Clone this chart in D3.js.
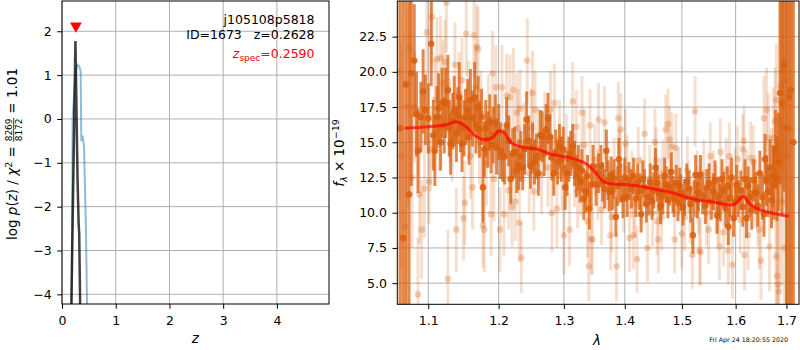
<!DOCTYPE html>
<html>
<head>
<meta charset="utf-8">
<script src="https://cdn.jsdelivr.net/npm/d3@7"></script>
<style>
  body { margin: 0; background: #fff; }
  text { font-family: "DejaVu Sans", sans-serif; white-space: pre; }
</style>
</head>
<body>
<svg id="fig" width="800" height="350"></svg>
<script>
// ---- Redshift probability panel ----
const pzZ   = [0.170, 0.250, 0.290, 0.310, 0.320, 0.342];
const pzLog = [-4.6, 1.78, -1.40, -2.40, -2.60, -4.60];
const chiZ   = [0.178, 0.199, 0.229, 0.261, 0.292, 0.322, 0.348, 0.359, 0.385, 0.410, 0.447, 0.470];
const chiLog = [-4.5, 0.03, 0.59, 1.12, 1.23, 1.20, 1.08, -0.50, -0.38, -0.64, -2.60, -4.60];
const zSpec = 0.259;
const zSpecMarkY = 2.1;
const zTicks = [0, 1, 2, 3, 4];
const logPTicks = [-4, -3, -2, -1, 0, 1, 2];

// ---- Spectrum panel: first grism (solid) ----
const darkWave = [
  1.062,1.066,1.070,1.074,1.077,1.081,1.084,1.086,1.090,1.093,
  1.096,1.100,1.104,1.107,1.109,1.112,1.114,1.117,1.119,1.122,
  1.124,1.127,1.129,1.131,1.134,1.136,1.139,1.141,1.143,1.145,
  1.147,1.150,1.152,1.155,1.157,1.159,1.162,1.165,1.167,1.170,
  1.172,1.175,1.177,1.179,1.181,1.184,1.187,1.189,1.192,1.195,
  1.197,1.200,1.203,1.206,1.209,1.212,1.215,1.218,1.221,1.224,
  1.227,1.230,1.233,1.236,1.239,1.242,1.245,1.248,1.251,1.254,
  1.257,1.260,1.263,1.266,1.269,1.272,1.275,1.278,1.281,1.284,
  1.287,1.290,1.293,1.296,1.299,1.302,1.305,1.308,1.311,1.314,
  1.317,1.320,1.323,1.326,1.329,1.332,1.335,1.338,1.341,1.344,
  1.347,1.352,1.356,1.360,1.363,1.366,1.369,1.372,1.374,1.377,
  1.379,1.382,1.385,1.388,1.390,1.393,1.397,1.400,1.404,1.407,
  1.411,1.415,1.419,1.422,1.425,1.428,1.431,1.434,1.437,1.441,
  1.444,1.447,1.450,1.453,1.456,1.459,1.462,1.466,1.469,1.472,
  1.475,1.478,1.481,1.484,1.486,1.490,1.493,1.496,1.498,1.502,
  1.505,1.509,1.513,1.516,1.520,1.522,1.525,1.528,1.530,1.534,
  1.538,1.543,1.546,1.550,1.554,1.558,1.561,1.565,1.568,1.571,
  1.574,1.577,1.581,1.584,1.586,1.589,1.592,1.596,1.599,1.602,
  1.605,1.610,1.614,1.618,1.621,1.624,1.627,1.631,1.635,1.639,
  1.643,1.647,1.652,1.655,1.657,1.660,1.663,1.667,1.670,1.673,
  1.675,1.678,1.681,1.684,1.687,1.691,1.695,1.700,1.705,1.709,
  1.714];
const darkFlux = [
  16.0,8.2,19.1,11.3,19.9,20.8,17.0,14.4,16.8,18.6,
  17.3,16.7,22.0,15.5,14.4,16.8,17.4,15.0,17.8,16.2,
  17.8,18.7,16.0,14.9,16.5,17.2,15.6,16.9,18.2,16.3,
  14.9,16.0,16.8,17.3,15.4,18.0,16.7,18.2,16.2,17.5,
  15.9,16.8,11.8,14.5,16.0,15.2,16.4,14.8,15.5,16.4,
  14.7,15.7,14.4,14.0,14.0,16.2,15.1,12.4,14.2,14.3,
  13.0,13.4,14.0,13.2,14.5,16.6,15.1,13.3,14.6,13.6,
  14.0,12.8,15.5,15.4,14.2,15.9,16.7,15.4,13.9,12.8,
  14.3,13.6,14.7,13.8,14.5,11.8,12.8,13.8,14.2,14.7,
  13.5,12.6,13.2,12.2,13.0,11.0,11.5,12.6,10.3,12.0,
  13.3,12.0,12.8,13.3,12.2,11.7,14.4,12.3,11.5,12.6,
  11.6,12.4,9.7,11.9,13.8,12.1,11.0,12.5,11.1,12.3,
  11.7,12.6,11.0,12.2,11.5,9.9,12.4,11.8,10.6,11.1,
  12.2,10.8,11.6,13.2,12.1,11.4,10.5,11.2,12.6,12.0,
  10.9,11.8,12.9,11.3,11.0,12.1,10.7,11.9,11.4,10.4,
  11.1,12.2,11.7,10.6,8.4,11.0,12.7,10.9,11.4,12.7,
  11.2,10.5,11.8,12.1,10.8,11.5,12.3,9.8,11.2,10.7,
  12.4,11.6,10.3,11.9,9.0,11.0,12.5,9.6,10.8,12.0,
  11.0,11.6,10.4,12.4,9.6,11.9,11.1,10.2,12.3,11.4,
  10.5,12.8,11.1,9.9,13.8,12.3,11.5,13.2,10.9,12.6,
  12.0,14.5,12.4,13.6,18.5,17.8,20.5,16.0,18.2,18.7,
  15.0];
const darkErr = [
  30,30,25,25,8,4,3,3,2.5,3,
  2.5,2.5,3,2.5,2.5,2.2,2.5,2,2.5,2,
  2.5,2.5,2,2.2,2,2.5,2,2,2.5,2,
  2,2,2,2.2,2,2.2,2,2.5,2,2.2,
  2,2,2.5,2,2,2,2,2,2,2,
  2,2,2,1.8,2,2,1.8,1.8,1.8,1.8,
  1.6,1.8,1.8,1.6,1.8,2,1.8,1.6,1.8,1.6,
  1.6,1.6,1.8,1.8,1.6,1.8,1.8,1.6,1.6,1.6,
  1.6,1.6,1.6,1.6,1.6,1.6,1.6,1.6,1.6,1.6,
  1.6,1.5,1.6,1.5,1.5,1.5,1.5,1.5,1.5,1.5,
  1.5,1.5,1.4,1.5,1.4,1.4,1.5,1.4,1.4,1.4,
  1.4,1.4,1.4,1.4,1.5,1.4,1.4,1.4,1.4,1.3,
  1.4,1.3,1.3,1.3,1.3,1.3,1.3,1.3,1.3,1.3,
  1.3,1.3,1.3,1.4,1.3,1.3,1.3,1.3,1.3,1.3,
  1.3,1.3,1.4,1.3,1.3,1.3,1.3,1.3,1.3,1.3,
  1.3,1.3,1.3,1.3,1.3,1.3,1.4,1.3,1.3,1.4,
  1.3,1.3,1.3,1.4,1.3,1.3,1.4,1.3,1.3,1.3,
  1.4,1.3,1.3,1.4,1.3,1.3,1.4,1.3,1.3,1.4,
  1.3,1.4,1.4,1.4,1.4,1.4,1.4,1.4,1.5,1.5,
  1.5,1.6,1.6,1.6,1.8,1.8,1.8,2,2,2.2,
  2.5,2.8,3,3.5,6.5,8,9,20,20,20,
  25];

// ---- Spectrum panel: second grism (faint) ----
const lightWave = [
  1.060,1.064,1.069,1.072,1.075,1.078,1.081,1.086,1.088,1.091,
  1.095,1.098,1.101,1.103,1.105,1.109,1.112,1.115,1.117,1.120,
  1.123,1.125,1.127,1.130,1.133,1.137,1.139,1.143,1.147,1.149,
  1.151,1.153,1.156,1.159,1.162,1.164,1.166,1.168,1.170,1.172,
  1.174,1.177,1.179,1.182,1.185,1.189,1.191,1.193,1.196,1.202,
  1.205,1.208,1.212,1.215,1.217,1.220,1.222,1.225,1.227,1.229,
  1.231,1.232,1.234,1.238,1.243,1.246,1.249,1.251,1.253,1.255,
  1.260,1.265,1.270,1.275,1.279,1.281,1.285,1.289,1.293,1.297,
  1.300,1.304,1.309,1.314,1.317,1.320,1.322,1.327,1.329,1.333,
  1.338,1.340,1.342,1.344,1.346,1.350,1.355,1.356,1.361,1.366,
  1.371,1.376,1.378,1.382,1.386,1.389,1.391,1.393,1.398,1.401,
  1.404,1.408,1.412,1.415,1.417,1.421,1.423,1.428,1.434,1.439,
  1.443,1.448,1.452,1.454,1.456,1.458,1.462,1.464,1.466,1.471,
  1.475,1.478,1.482,1.487,1.489,1.494,1.500,1.505,1.510,1.515,
  1.519,1.524,1.528,1.530,1.532,1.534,1.540,1.545,1.549,1.552,
  1.558,1.563,1.566,1.569,1.571,1.577,1.582,1.586,1.588,1.590,
  1.594,1.599,1.604,1.609,1.614,1.616,1.617,1.621,1.624,1.629,
  1.634,1.638,1.643,1.646,1.649,1.655,1.660,1.664,1.666,1.670,
  1.674,1.677,1.679,1.680,1.681,1.683,1.685,1.688,1.690,1.692,
  1.694,1.696,1.698,1.702,1.708];
const lightFlux = [
  20.0,14.0,9.0,17.5,21.7,12.5,17.5,4.2,11.3,8.8,
  11.7,22.8,12.2,14.5,23.9,18.0,20.9,16.0,21.0,19.2,
  20.7,24.9,5.3,16.5,15.2,20.5,8.8,18.4,19.4,9.6,
  10.7,22.7,17.8,14.0,11.8,22.6,18.9,21.8,21.6,15.0,
  17.1,9.1,8.8,13.5,16.8,9.9,19.9,12.4,18.9,8.8,
  18.9,9.9,18.3,11.6,18.2,10.4,18.7,10.8,17.1,16.0,
  9.3,17.4,6.8,15.0,20.8,12.8,16.0,18.5,11.5,17.3,
  14.6,12.7,15.8,13.2,17.3,10.0,17.8,10.3,15.2,12.8,
  8.4,14.4,8.8,17.9,13.0,16.1,11.5,12.4,17.1,14.8,
  9.4,6.2,16.2,8.1,8.1,13.8,12.0,16.6,10.2,16.4,
  12.6,8.4,9.7,12.8,6.2,16.7,13.4,15.9,11.0,14.9,
  13.1,8.2,12.0,8.4,10.6,6.7,13.7,11.6,15.6,7.5,
  12.4,10.0,15.0,13.7,9.4,8.1,11.5,9.7,12.8,15.9,
  16.3,15.2,14.7,8.1,14.6,12.2,8.5,9.7,13.0,10.2,
  7.0,17.2,12.0,10.9,7.3,7.2,12.8,10.0,8.8,14.0,
  12.0,11.0,10.2,7.6,14.3,8.6,12.9,7.3,14.0,11.1,
  6.3,12.2,13.8,9.5,14.5,15.1,7.0,12.0,8.4,13.9,
  13.6,11.5,10.3,8.8,6.6,16.7,17.3,15.3,7.6,12.6,
  15.3,16.5,6.9,18.0,5.5,4.9,4.4,19.0,10.8,20.0,
  20.8,7.5,19.4,14.0,16.0];
const lightErr = [
  9,8,6,7,5,5,4,4,3.5,3.5,
  3.5,3.5,3,3,3.5,3,3,3,3,3,
  3,3.5,3.5,3,3,3,3,3,3,3,
  3,3,3,3,3,3,3,3,3,3,
  3,3,3,3,3,3,3,3,3,3,
  3,3,3,2.8,3,2.8,3,2.8,2.8,2.8,
  2.8,2.8,2.5,2.8,3,2.8,2.8,3,2.8,2.8,
  2.8,2.8,2.8,2.8,2.8,2.8,2.8,2.8,2.8,2.6,
  2.8,2.6,2.6,2.8,2.6,2.6,2.6,2.6,2.6,2.6,
  2.6,2.5,2.6,2.5,2.5,2.5,2.5,2.6,2.5,2.6,
  2.5,2.5,2.5,2.5,2.5,2.6,2.5,2.6,2.4,2.5,
  2.4,2.4,2.4,2.4,2.4,2.4,2.4,2.4,2.5,2.4,
  2.4,2.4,2.4,2.4,2.4,2.4,2.4,2.4,2.4,2.5,
  2.5,2.4,2.4,2.4,2.4,2.4,2.4,2.4,2.4,2.4,
  2.4,2.5,2.4,2.4,2.4,2.4,2.4,2.4,2.4,2.4,
  2.4,2.4,2.4,2.4,2.4,2.4,2.4,2.4,2.4,2.4,
  2.4,2.4,2.4,2.4,2.5,2.5,2.5,2.5,2.5,2.6,
  2.6,2.6,2.7,2.8,2.8,3,3,3.2,3.2,3.4,
  3.6,3.8,4,4,4.5,5,5.5,6,6,7,
  8,8,9,12,14];

// ---- Best-fit template ----
const modelWave = [1.068,1.100,1.125,1.140,1.153,1.165,1.178,1.190,1.200,1.208,1.218,
  1.235,1.260,1.280,1.310,1.335,1.350,1.362,1.370,1.400,1.430,1.455,1.485,1.500,
  1.530,1.560,1.590,1.600,1.614,1.628,1.647,1.675,1.705];
const modelFlux = [16.0,16.1,16.25,16.45,16.1,15.5,15.2,15.3,15.8,15.7,15.0,
  14.65,14.5,14.15,13.9,13.5,12.9,12.3,12.1,12.0,11.85,11.65,11.4,11.2,
  10.9,10.75,10.55,10.65,11.15,10.6,10.2,9.95,9.75];
const waveTicks = [1.1, 1.2, 1.3, 1.4, 1.5, 1.6, 1.7];
const fluxTicks = [5.0, 7.5, 10.0, 12.5, 15.0, 17.5, 20.0, 22.5];

// ---- layout ----
const FONT = "DejaVu Sans, sans-serif";
const TICK_FS = 12.5;
const GRID = "#b0b0b0";
const SPEC = "#d95f0e";
const L = { x0: 62, x1: 329, y0: 1, y1: 304 };
const R = { x0: 397.3, x1: 799, y0: 1, y1: 304.3 };

const svg = d3.select("#fig");
const defs = svg.append("defs");
defs.append("clipPath").attr("id", "clipL").append("rect")
  .attr("x", L.x0).attr("y", L.y0).attr("width", L.x1 - L.x0).attr("height", L.y1 - L.y0);
defs.append("clipPath").attr("id", "clipR").append("rect")
  .attr("x", R.x0).attr("y", R.y0).attr("width", R.x1 - R.x0).attr("height", R.y1 - R.y0);

const xz = d3.scaleLinear().domain([0, 4.97]).range([L.x0, L.x1]);
const yp = d3.scaleLinear().domain([-4.22, 2.69]).range([L.y1, L.y0]);
const xw = d3.scalePow().exponent(0.1).domain([1.0584, 1.7255]).range([R.x0, R.x1]);
const yf = d3.scaleLinear().domain([3.5, 25.03]).range([R.y1, R.y0]);

function grid(box, xs, ys, xVals, yVals) {
  const g = svg.append("g").attr("stroke", GRID).attr("stroke-width", 1);
  xVals.forEach(v => g.append("line").attr("x1", xs(v)).attr("x2", xs(v)).attr("y1", box.y0).attr("y2", box.y1));
  yVals.forEach(v => g.append("line").attr("y1", ys(v)).attr("y2", ys(v)).attr("x1", box.x0).attr("x2", box.x1));
}

function styleAxis(g) {
  g.attr("font-family", FONT).attr("font-size", TICK_FS);
  g.select(".domain").remove();
  g.selectAll(".tick line").attr("stroke", "#000").attr("stroke-width", 1);
  g.selectAll(".tick text").attr("fill", "#000");
}

function frame(box) {
  svg.append("rect").attr("x", box.x0).attr("y", box.y0)
    .attr("width", box.x1 - box.x0).attr("height", box.y1 - box.y0)
    .attr("fill", "none").attr("stroke", "#000").attr("stroke-width", 1);
}

// ================= left panel =================
grid(L, xz, yp, zTicks, logPTicks);

const gL = svg.append("g").attr("clip-path", "url(#clipL)");
const lineL = d3.line().x(d => xz(d[0])).y(d => yp(d[1]));
gL.append("path").datum(d3.zip(chiZ, chiLog)).attr("d", lineL)
  .attr("fill", "none").attr("stroke", "#1f77b4").attr("stroke-opacity", 0.5).attr("stroke-width", 2);
gL.append("path").datum(d3.zip(pzZ, pzLog)).attr("d", lineL)
  .attr("fill", "none").attr("stroke", "#000").attr("stroke-opacity", 0.75).attr("stroke-width", 2.5);

svg.append("path")
  .attr("d", d3.symbol(d3.symbolTriangle, 60)())
  .attr("transform", `translate(${xz(zSpec)},${yp(zSpecMarkY) - 1}) rotate(180)`)
  .attr("fill", "red");

svg.append("g").attr("transform", `translate(0,${L.y1})`)
  .call(d3.axisBottom(xz).tickValues(zTicks).tickSize(4.8).tickPadding(7).tickFormat(d3.format("d")))
  .call(styleAxis);
svg.append("g").attr("transform", `translate(${L.x0},0)`)
  .call(d3.axisLeft(yp).tickValues(logPTicks).tickSize(4.8).tickPadding(5.5).tickFormat(d3.format("d")))
  .call(styleAxis);
frame(L);

// annotations
const ann = svg.append("g").attr("font-family", FONT).attr("font-size", 12.5).attr("text-anchor", "end");
ann.append("text").attr("x", 314.5).attr("y", 24).text("j105108p5818");
ann.append("text").attr("x", 314.5).attr("y", 39).text("ID=1673   z=0.2628");
const zs = ann.append("text").attr("x", 314.5).attr("y", 58).attr("fill", "red");
zs.append("tspan").attr("font-style", "italic").text("z");
zs.append("tspan").attr("font-size", 9).attr("dy", 3).text("spec");
zs.append("tspan").attr("dy", -3).text("=0.2590");

// x label
svg.append("text").attr("x", xz(2.48)).attr("y", 343).attr("text-anchor", "middle")
  .attr("font-family", FONT).attr("font-size", 13.5).attr("font-style", "italic").text("z");

// y label: log p(z) / chi^2 = a/b = 1.01
(function () {
  const g = svg.append("g").attr("transform", "translate(17,154) rotate(-90)")
    .attr("font-family", FONT).attr("font-size", 13.5);
  const inner = g.append("g");
  const t1 = inner.append("text").attr("x", 0).attr("y", 0);
  t1.append("tspan").text("log ");
  t1.append("tspan").attr("font-style", "italic").text("p");
  t1.append("tspan").text("(");
  t1.append("tspan").attr("font-style", "italic").text("z");
  t1.append("tspan").text(") / ");
  t1.append("tspan").attr("font-style", "italic").text("χ");
  t1.append("tspan").attr("font-size", 9.5).attr("dy", -5.5).text("2");
  t1.append("tspan").attr("dy", 5.5).text(" = ");
  const w1 = t1.node().getComputedTextLength();
  const num = inner.append("text").attr("font-size", 9).attr("text-anchor", "middle").attr("y", -5.5).text("8269");
  const den = inner.append("text").attr("font-size", 9).attr("text-anchor", "middle").attr("y", 4.5).text("8172");
  const fw = Math.max(num.node().getComputedTextLength(), den.node().getComputedTextLength()) + 1;
  num.attr("x", w1 + fw / 2);
  den.attr("x", w1 + fw / 2);
  inner.append("line").attr("x1", w1).attr("x2", w1 + fw).attr("y1", -3.3).attr("y2", -3.3)
    .attr("stroke", "#000").attr("stroke-width", 0.8);
  const t3 = inner.append("text").attr("x", w1 + fw).attr("y", 0).text(" = 1.01");
  const total = w1 + fw + t3.node().getComputedTextLength();
  inner.attr("transform", `translate(${-total / 2},0)`);
})();

// ================= right panel =================
grid(R, xw, yf, waveTicks, fluxTicks);

const gR = svg.append("g").attr("clip-path", "url(#clipR)");
const light = d3.range(lightWave.length).map(i => ({ w: lightWave[i], f: lightFlux[i], e: lightErr[i] }));
const dark = d3.range(darkWave.length).map(i => ({ w: darkWave[i], f: darkFlux[i], e: darkErr[i] }));

gR.append("g").selectAll("line").data(light).join("line")
  .attr("x1", d => xw(d.w)).attr("x2", d => xw(d.w))
  .attr("y1", d => yf(d.f - d.e)).attr("y2", d => yf(d.f + d.e))
  .attr("stroke", SPEC).attr("stroke-opacity", 0.2).attr("stroke-width", 3);
gR.append("g").selectAll("circle").data(light).join("circle")
  .attr("cx", d => xw(d.w)).attr("cy", d => yf(d.f)).attr("r", 3.3)
  .attr("fill", SPEC).attr("fill-opacity", 0.28);

gR.append("g").selectAll("line").data(dark).join("line")
  .attr("x1", d => xw(d.w)).attr("x2", d => xw(d.w))
  .attr("y1", d => yf(d.f - d.e)).attr("y2", d => yf(d.f + d.e))
  .attr("stroke", SPEC).attr("stroke-opacity", 0.75).attr("stroke-width", 3);
gR.append("g").selectAll("circle").data(dark).join("circle")
  .attr("cx", d => xw(d.w)).attr("cy", d => yf(d.f)).attr("r", 3.3)
  .attr("fill", SPEC).attr("fill-opacity", 0.85);

gR.append("path").datum(d3.zip(modelWave, modelFlux))
  .attr("d", d3.line().x(d => xw(d[0])).y(d => yf(d[1])).curve(d3.curveCatmullRom.alpha(0.5)))
  .attr("fill", "none").attr("stroke", "red").attr("stroke-opacity", 0.7).attr("stroke-width", 3);

svg.append("g").attr("transform", `translate(0,${R.y1})`)
  .call(d3.axisBottom(xw).tickValues(waveTicks).tickSize(4.8).tickPadding(7).tickFormat(d3.format(".1f")))
  .call(styleAxis);
svg.append("g").attr("transform", `translate(${R.x0},0)`)
  .call(d3.axisLeft(yf).tickValues(fluxTicks).tickSize(4.8).tickPadding(5.5).tickFormat(d3.format(".1f")))
  .call(styleAxis);
frame(R);

svg.append("text").attr("x", 597).attr("y", 345).attr("text-anchor", "middle")
  .attr("font-family", FONT).attr("font-size", 13.5).attr("font-style", "italic").text("λ");

// y label: f_lambda x 10^-19
(function () {
  const t = svg.append("text").attr("transform", "translate(344,153) rotate(-90)")
    .attr("text-anchor", "middle").attr("font-family", FONT).attr("font-size", 13.5);
  t.append("tspan").attr("font-style", "italic").text("f");
  t.append("tspan").attr("font-style", "italic").attr("font-size", 9.5).attr("dy", 3).text("λ");
  t.append("tspan").attr("dy", -3).text(" × 10");
  t.append("tspan").attr("font-size", 9.5).attr("dy", -5.5).text("−19");
})();

// timestamp
svg.append("text").attr("x", 788).attr("y", 341.5).attr("text-anchor", "end")
  .attr("font-family", FONT).attr("font-size", 6.3).text("Fri Apr 24 18:20:55 2020");
</script>
</body>
</html>
